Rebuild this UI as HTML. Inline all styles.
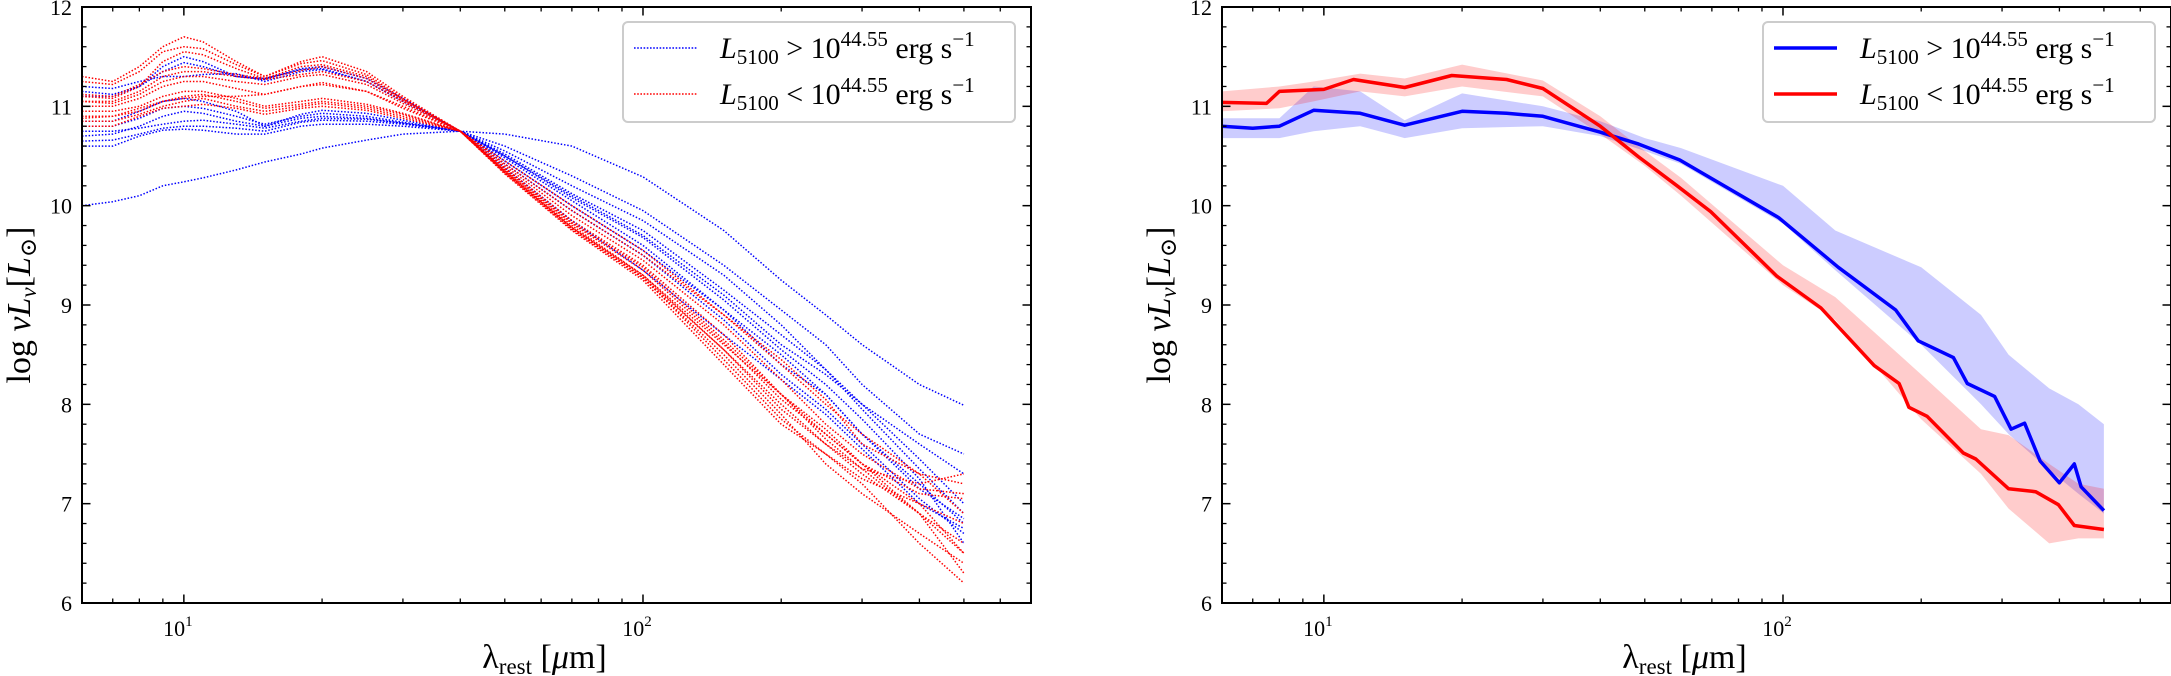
<!DOCTYPE html>
<html><head><meta charset="utf-8">
<style>
html,body{margin:0;padding:0;background:#fff;}
svg{display:block;font-family:"Liberation Serif","DejaVu Serif",serif;}
</style></head>
<body>
<svg id="fig" width="2171" height="676" viewBox="0 0 2171 676" xmlns="http://www.w3.org/2000/svg"></svg>
<script>
// ---------- Left panel data ----------
const grid = [6,7,8,9,10,11,13,15,18,20,25,30,40,50,70,100,150,200,250,300,400,500];
const blueCurves = [
 [10.0,10.04,10.1,10.2,10.24,10.28,10.36,10.44,10.52,10.58,10.66,10.72,10.75,10.72,10.6,10.29,9.75,9.25,8.9,8.6,8.2,7.99],
 [10.6,10.6,10.7,10.76,10.77,10.76,10.72,10.72,10.8,10.82,10.82,10.8,10.75,10.6,10.3,9.95,9.4,8.95,8.6,8.2,7.7,7.5],
 [10.7,10.72,10.8,10.9,10.95,10.93,10.85,10.8,10.88,10.9,10.88,10.83,10.75,10.55,10.2,9.85,9.3,8.8,8.35,8.0,7.6,7.3],
 [10.8,10.8,10.88,10.98,11.0,10.98,10.9,10.82,10.9,10.93,10.9,10.84,10.75,10.5,10.1,9.7,9.1,8.6,8.3,8.0,7.45,7.0],
 [10.65,10.66,10.72,10.78,10.8,10.8,10.78,10.75,10.84,10.86,10.85,10.82,10.75,10.52,10.12,9.75,9.15,8.7,8.35,7.95,7.35,6.9],
 [11.1,11.1,11.2,11.4,11.5,11.45,11.3,11.28,11.37,11.38,11.25,11.05,10.75,10.45,10.0,9.55,8.95,8.5,8.1,7.7,7.2,6.8],
 [11.15,11.12,11.2,11.35,11.44,11.4,11.3,11.27,11.38,11.4,11.28,11.08,10.75,10.42,9.95,9.5,8.85,8.3,7.95,7.6,7.05,6.7],
 [10.85,10.85,10.95,11.05,11.08,11.05,10.95,10.8,10.92,10.96,10.93,10.86,10.75,10.48,10.05,9.6,8.95,8.4,8.1,7.7,7.15,6.85],
 [10.75,10.75,10.78,10.82,10.85,10.86,10.82,10.78,10.85,10.88,10.87,10.83,10.75,10.5,10.08,9.68,9.05,8.55,8.2,7.85,7.25,6.6],
 [11.2,11.18,11.25,11.3,11.3,11.32,11.33,11.25,11.35,11.37,11.25,11.05,10.75,10.38,9.85,9.35,8.7,8.25,7.9,7.55,7.0,6.75]
];
const redCurves = [
 [11.3,11.25,11.4,11.6,11.7,11.65,11.45,11.3,11.45,11.5,11.35,11.1,10.75,10.35,9.8,9.3,8.6,8.1,7.7,7.4,6.9,6.3],
 [11.25,11.22,11.35,11.55,11.6,11.58,11.42,11.3,11.43,11.46,11.32,11.08,10.75,10.35,9.78,9.28,8.55,7.95,7.6,7.35,7.2,7.3],
 [11.1,11.08,11.2,11.45,11.55,11.52,11.38,11.28,11.4,11.42,11.3,11.07,10.75,10.32,9.75,9.25,8.4,7.8,7.5,7.2,6.6,6.2],
 [11.05,11.05,11.15,11.3,11.35,11.35,11.3,11.27,11.32,11.35,11.25,11.05,10.75,10.33,9.76,9.27,8.5,7.9,7.4,7.1,6.7,6.4],
 [10.88,10.9,10.95,11.05,11.1,11.12,11.05,10.98,11.02,11.05,11.0,10.92,10.75,10.38,9.85,9.4,8.7,8.1,7.75,7.4,7.1,7.05],
 [10.85,10.85,10.92,11.0,11.05,11.08,11.0,10.95,11.0,11.03,10.98,10.9,10.75,10.4,9.9,9.45,8.8,8.25,7.8,7.5,7.15,7.1],
 [10.8,10.8,10.9,10.98,11.0,11.02,10.98,10.92,10.98,11.0,10.96,10.88,10.75,10.42,9.95,9.5,8.9,8.4,8.0,7.7,7.3,6.9],
 [11.05,11.03,11.12,11.25,11.3,11.3,11.25,11.22,11.3,11.32,11.22,11.03,10.75,10.34,9.78,9.3,8.55,8.0,7.6,7.3,6.9,6.6],
 [10.9,10.9,10.98,11.05,11.08,11.1,11.1,11.12,11.2,11.24,11.15,10.98,10.75,10.36,9.82,9.35,8.62,8.05,7.7,7.4,7.0,6.8],
 [11.12,11.1,11.22,11.35,11.4,11.38,11.32,11.28,11.36,11.4,11.28,11.06,10.75,10.33,9.77,9.28,8.45,7.85,7.5,7.25,7.0,6.5],
 [10.95,10.95,11.0,11.1,11.15,11.15,11.08,11.0,11.05,11.08,11.02,10.93,10.75,10.45,10.0,9.55,8.9,8.45,8.05,7.6,7.3,7.2],
 [11.0,11.0,11.08,11.2,11.25,11.25,11.18,11.12,11.2,11.22,11.15,11.0,10.75,10.37,9.83,9.38,8.65,8.1,7.65,7.35,6.9,6.5]
];
// ---------- Right panel data ----------
const blueMeanX = [6,7,8,9.5,12,15,20,25,30,40,48.5,59.6,97.8,132,176,197,235,252,289,314,336,363,400,431,446,500];
const blueMeanY = [10.80,10.78,10.8,10.96,10.93,10.81,10.95,10.93,10.9,10.74,10.62,10.46,9.88,9.38,8.95,8.64,8.47,8.21,8.08,7.75,7.81,7.43,7.21,7.40,7.17,6.93];
const redMeanX = [6,7.5,8,10,11.6,15,19,25,30,40,48.5,58.8,69.6,97,121,158,179,188,206,247,263,310,355,398,431,500];
const redMeanY = [11.04,11.03,11.15,11.17,11.27,11.19,11.31,11.27,11.18,10.8,10.49,10.2,9.94,9.29,8.97,8.39,8.21,7.97,7.88,7.51,7.45,7.15,7.12,6.99,6.78,6.74];
const bandX = [6,8,9.5,12,15,20,30,40,50,60,100,130,200,270,310,380,440,500];
const blueLo = [10.68,10.68,10.75,10.8,10.68,10.78,10.8,10.7,10.55,10.42,9.82,9.35,8.6,8.0,7.7,7.34,7.1,6.9];
const blueHi = [10.88,10.88,11.2,11.15,10.86,11.13,11.0,10.85,10.68,10.58,10.2,9.75,9.38,8.9,8.5,8.16,8.0,7.8];
const redLo = [10.95,10.98,11.05,11.15,11.1,11.2,11.1,10.72,10.4,10.1,9.2,8.85,7.85,7.3,6.95,6.6,6.65,6.65];
const redHi = [11.15,11.2,11.25,11.33,11.28,11.42,11.26,10.9,10.55,10.28,9.4,9.08,8.3,7.75,7.69,7.4,7.2,7.15];
const yTicks = [6,7,8,9,10,11,12];

const NS = "http://www.w3.org/2000/svg";
const svg = document.getElementById('fig');
function mk(tag, attrs, parent){ const e=document.createElementNS(NS,tag); for(const k in attrs) e.setAttribute(k,attrs[k]); (parent||svg).appendChild(e); return e; }

const XMIN=6, XMAX=700, YMIN=6, YMAX=12, TOP=7, BOT=603, W=949;
function makeAxes(left){
  const sx = v => left + (Math.log10(v)-Math.log10(XMIN))/(Math.log10(XMAX)-Math.log10(XMIN))*W;
  const sy = v => BOT - (v-YMIN)/(YMAX-YMIN)*(BOT-TOP);
  return {sx, sy};
}
function pathFrom(xs, ys, a){ return xs.map((x,i)=>(i?'L':'M')+a.sx(x).toFixed(1)+','+a.sy(ys[i]).toFixed(1)).join(''); }

function drawFrame(left, g, a){
  // ticks
  const minorX=[6,7,8,9,20,30,40,50,60,70,80,90,200,300,400,500,600,700];
  minorX.forEach(v=>{ const x=a.sx(v);
    mk('line',{x1:x,y1:BOT,x2:x,y2:BOT-4.5,stroke:'#000','stroke-width':1.3},g);
    mk('line',{x1:x,y1:TOP,x2:x,y2:TOP+4.5,stroke:'#000','stroke-width':1.3},g);});
  [10,100].forEach((v,i)=>{ const x=a.sx(v);
    mk('line',{x1:x,y1:BOT,x2:x,y2:BOT-8.5,stroke:'#000','stroke-width':1.5},g);
    mk('line',{x1:x,y1:TOP,x2:x,y2:TOP+8.5,stroke:'#000','stroke-width':1.5},g);
    const t=mk('text',{x:x-6,y:636,'font-size':22,'text-anchor':'middle'},g);
    
    
    t.textContent='10';
    const s=mk('tspan',{'font-size':15,dy:-10},t); s.textContent=String(i+1);
  });
  for(let v=6; v<=12.001; v+=0.2){
    const y=a.sy(v); const maj=Math.abs(v-Math.round(v))<1e-6; const L=maj?8.5:4.5;
    mk('line',{x1:left,y1:y,x2:left+L,y2:y,stroke:'#000','stroke-width':maj?1.5:1.3},g);
    mk('line',{x1:left+W,y1:y,x2:left+W-L,y2:y,stroke:'#000','stroke-width':maj?1.5:1.3},g);
  }
  yTicks.forEach(v=>{
    const t=mk('text',{x:left-10,y:a.sy(v)+8,'font-size':22,'text-anchor':'end'},g);
    
    
    t.textContent=String(v);
  });
  const fr=mk('rect',{x:left,y:TOP,width:W,height:BOT-TOP,fill:'none',stroke:'#000','stroke-width':2},g);
  
  
  // x label
  const xl=mk('text',{x:left+W/2-12,y:668,'font-size':34,'text-anchor':'middle'},g);
  
  
  xl.innerHTML='λ<tspan font-size="23" dy="6">rest</tspan><tspan dy="-6"> [</tspan><tspan font-style="italic">μ</tspan>m]';
  // y label
  const yl=mk('text',{x:0,y:0,'font-size':34,'text-anchor':'middle',transform:`translate(${left-52},${(TOP+BOT)/2}) rotate(-90)`},g);
  
  
  yl.innerHTML='log <tspan font-style="italic">νL</tspan><tspan font-style="italic" font-size="23" dy="6">ν</tspan><tspan dy="-6">[</tspan><tspan font-style="italic">L</tspan><tspan font-size="23" dy="6">⊙</tspan><tspan dy="-6">]</tspan>';
}

function drawLegend(g, left, dotted){
  const bx=left+541, by=22;
  const box=mk('rect',{x:bx,y:by,width:392,height:100,rx:5,fill:'#fff','fill-opacity':0.85,stroke:'#ccc','stroke-width':2},g);
  
  
  const items=[['#0000ff','>',48,'legend-entry-high'],['#ff0000','<',94,'legend-entry-low']];
  items.forEach(it=>{
    const ln=mk('line',{x1:bx+11,y1:it[2],x2:bx+74,y2:it[2],stroke:it[0],'stroke-width':dotted?1.6:3.5,'stroke-dasharray':dotted?'1.6 1.6':'none'},g);
    
    
    const t=mk('text',{x:bx+97,y:it[2]+10,'font-size':30},g);
    
    
    t.innerHTML='<tspan font-style="italic">L</tspan><tspan font-size="21" dy="6">5100</tspan><tspan dy="-6"> '+(it[1]==='>'?'&gt;':'&lt;')+' 10</tspan><tspan font-size="21" dy="-12">44.55</tspan><tspan dy="12"> erg s</tspan><tspan font-size="21" dy="-12">−1</tspan>';
  });
}

// ---- Left panel ----
const gL=mk('g',{});  
const aL=makeAxes(82);
blueCurves.forEach(c=>{
  const p=mk('path',{d:pathFrom(grid,c,aL),fill:'none',stroke:'#0000ff','stroke-width':1.5,'stroke-dasharray':'1.5 1.8'},gL);
  
  
});
redCurves.forEach(c=>{
  const p=mk('path',{d:pathFrom(grid,c,aL),fill:'none',stroke:'#ff0000','stroke-width':1.5,'stroke-dasharray':'1.5 1.8'},gL);
  
  
});
drawFrame(82,gL,aL);
drawLegend(gL,82,true);

// ---- Right panel ----
const gR=mk('g',{});  
const aR=makeAxes(1222);
function band(lo,hi,color,name){
  let d=bandX.map((x,i)=>(i?'L':'M')+aR.sx(x).toFixed(1)+','+aR.sy(hi[i]).toFixed(1)).join('');
  for(let i=bandX.length-1;i>=0;i--) d+='L'+aR.sx(bandX[i]).toFixed(1)+','+aR.sy(lo[i]).toFixed(1);
  const p=mk('path',{d:d+'Z',fill:color,stroke:'none'},gR);
  
  
}
band(blueLo,blueHi,'rgba(0,0,255,0.2)','band-high');
band(redLo,redHi,'rgba(255,0,0,0.2)','band-low');
const pb=mk('path',{d:pathFrom(blueMeanX,blueMeanY,aR),fill:'none',stroke:'#0000ff','stroke-width':3.5,'stroke-linejoin':'round'},gR);


const pr=mk('path',{d:pathFrom(redMeanX,redMeanY,aR),fill:'none',stroke:'#ff0000','stroke-width':3.5,'stroke-linejoin':'round'},gR);


drawFrame(1222,gR,aR);
drawLegend(gR,1222,false);
</script>
</body></html>
